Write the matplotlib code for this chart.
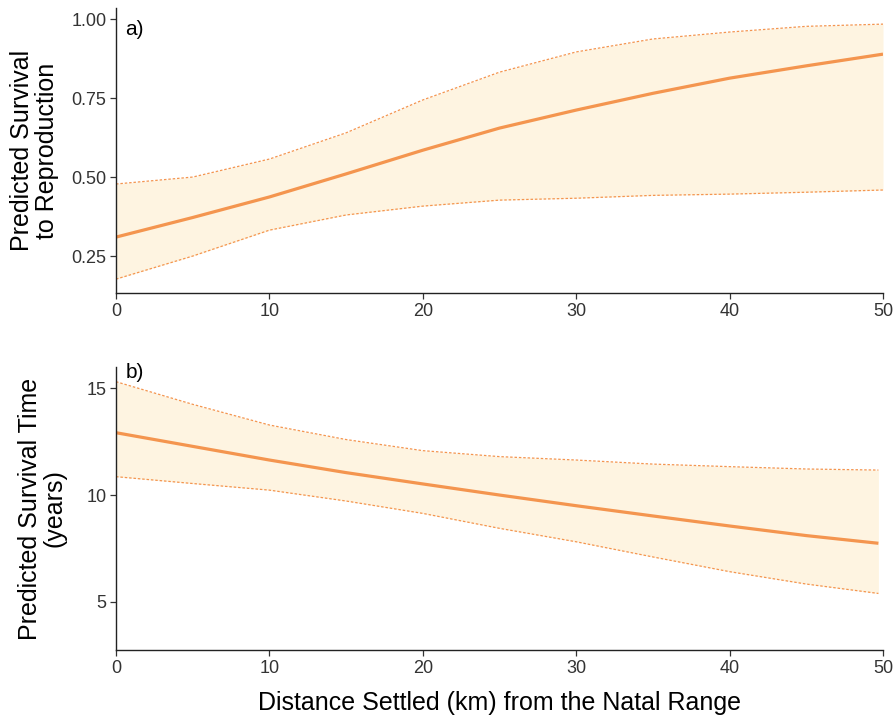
import matplotlib
matplotlib.use("Agg")
import matplotlib.pyplot as plt

# distance settled (km)
dist_a = [0, 5, 10, 15, 20, 25, 30, 35, 40, 45, 50]
dist_b = [0, 5, 10, 15, 20, 25, 30, 35, 40, 45, 49.7]

# a) survival to reproduction
surv_fit = [0.31, 0.372, 0.437, 0.51, 0.585, 0.655, 0.712, 0.765, 0.813, 0.852, 0.889]
surv_hi = [0.478, 0.50, 0.557, 0.64, 0.744, 0.832, 0.896, 0.937, 0.959, 0.977, 0.984]
surv_lo = [0.177, 0.25, 0.332, 0.38, 0.408, 0.427, 0.433, 0.442, 0.446, 0.452, 0.459]

# b) survival time (years)
time_fit = [12.92, 12.28, 11.64, 11.05, 10.52, 10.0, 9.50, 9.02, 8.55, 8.10, 7.74]
time_hi = [15.31, 14.25, 13.28, 12.60, 12.08, 11.80, 11.64, 11.45, 11.33, 11.22, 11.17]
time_lo = [10.86, 10.54, 10.23, 9.72, 9.14, 8.44, 7.81, 7.10, 6.41, 5.83, 5.39]

plt.rcParams["font.family"] = ["Liberation Sans", "DejaVu Sans"]

LINE = "#F4954F"
FILL = "#FEF4E1"
TICKC = "#333333"

fig = plt.figure(figsize=(8.96, 7.18), dpi=100)
ax1 = fig.add_axes([0.1295, 0.5919, 0.856, 0.3965])
ax2 = fig.add_axes([0.1295, 0.0947, 0.856, 0.3942])


def panel(ax, x, fit, lo, hi, ylim, yticks, yfmt, ylabel, tag, tag_y, pad):
    ax.fill_between(x, lo, hi, color=FILL, lw=0)
    ax.plot(x, hi, color=LINE, lw=0.9, ls=(0, (2, 1.5)))
    ax.plot(x, lo, color=LINE, lw=0.9, ls=(0, (2, 1.5)))
    ax.plot(x, fit, color=LINE, lw=2.3, solid_capstyle="butt")
    ax.set_xlim(0, 50)
    ax.set_ylim(*ylim)
    ax.set_xticks([0, 10, 20, 30, 40, 50])
    ax.set_yticks(yticks)
    ax.set_yticklabels([yfmt.format(v) for v in yticks])
    for s in ["top", "right"]:
        ax.spines[s].set_visible(False)
    for s in ["left", "bottom"]:
        ax.spines[s].set_color("#222222")
        ax.spines[s].set_linewidth(1.0)
    ax.tick_params(axis="both", length=4, width=0.9, color="#333333",
                   labelsize=13, labelcolor=TICKC, pad=3)
    ax.set_ylabel(ylabel, fontsize=18, color="black", linespacing=1.05, labelpad=pad)
    ax.text(0.012, tag_y, tag, transform=ax.transAxes, fontsize=15,
            ha="left", va="center", color="black")


panel(ax1, dist_a, surv_fit, surv_lo, surv_hi, (0.133, 1.034),
      [0.25, 0.50, 0.75, 1.00], "{:.2f}",
      "Predicted Survival\nto Reproduction", "a)", 0.927, 9)
panel(ax2, dist_b, time_fit, time_lo, time_hi, (2.74, 16.0),
      [5, 10, 15], "{:d}",
      "Predicted Survival Time\n(years)", "b)", 0.979, 14)

ax2.set_xlabel("Distance Settled (km) from the Natal Range", fontsize=18,
               color="black", labelpad=10)

fig.savefig("out.png", dpi=100)
